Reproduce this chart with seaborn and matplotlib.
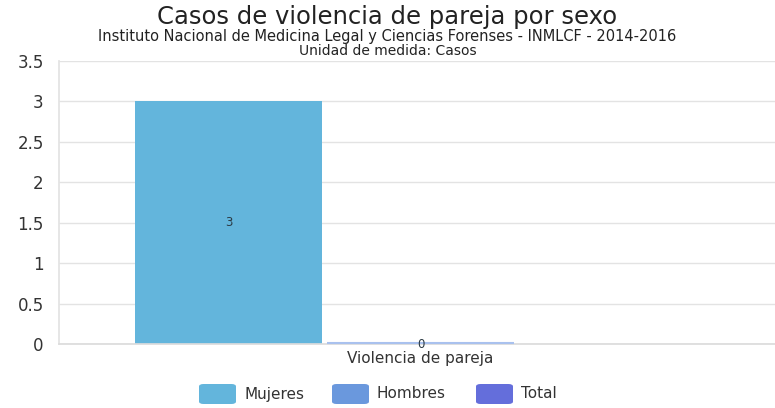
import numpy as np
import pandas as pd
import matplotlib
matplotlib.use("Agg")
import matplotlib.pyplot as plt
import seaborn as sns
from matplotlib.patches import FancyBboxPatch

categories = ["Violencia de pareja"]
series = ["Mujeres", "Hombres", "Total"]
values = [3, 0, np.nan]
colors = ["#63b5dc", "#6a98dd", "#646edb"]
yticks = [0, 0.5, 1, 1.5, 2, 2.5, 3, 3.5]
ytick_labels = ["0", "0.5", "1", "1.5", "2", "2.5", "3", "3.5"]

df = pd.DataFrame({
    "categoria": categories * len(series),
    "sexo": series,
    "casos": values,
})

sns.set_theme(style="white")
plt.rcParams["font.family"] = ["DejaVu Sans"]

fig = plt.figure(figsize=(7.75, 4.08), dpi=100)
ax = fig.add_axes([59 / 775, 1 - 344 / 408, 1 - 59 / 775, (344 - 61) / 408])

sns.barplot(data=df, x="categoria", y="casos", hue="sexo", hue_order=series,
            palette=colors, width=0.8, gap=0.025, ax=ax, legend=False,
            saturation=1, linewidth=0)

# zero-valued bar shows as a thin line along the baseline
for patch, v in zip(ax.patches, values):
    if v == 0:
        x0 = patch.get_x()
        w = patch.get_width()
        ax.plot([x0, x0 + w], [0.012, 0.012], color="#a9c1ee", lw=1.5,
                zorder=5, solid_capstyle="butt", clip_on=False)

# value labels inside bars
for patch, v in zip(ax.patches, values):
    if np.isnan(v):
        continue
    cx = patch.get_x() + patch.get_width() / 2
    ax.text(cx, v / 2, f"{v:g}", ha="center", va="center", fontsize=8.5,
            color="#2b3a44", zorder=6)

ax.set_ylim(0, 3.5)
ax.set_xlim(-0.503, 0.493)
ax.set_yticks(yticks)
ax.set_yticklabels(ytick_labels)
ax.tick_params(axis="y", labelsize=12, colors="#333333", length=0, pad=11)
ax.tick_params(axis="x", labelsize=11, colors="#333333", length=0, pad=5)
ax.set_xlabel("")
ax.set_ylabel("")
ax.grid(axis="y", color="#e3e3e3", lw=1)
ax.set_axisbelow(True)
for side in ["top", "right"]:
    ax.spines[side].set_visible(False)
ax.spines["left"].set_color("#e3e3e3")
ax.spines["bottom"].set_color("#dcdcdc")

fig.text(0.5, 1 - 17 / 408, "Casos de violencia de pareja por sexo", ha="center",
         va="center", fontsize=17.5, color="#222222")
fig.text(0.5, 1 - 37 / 408,
         "Instituto Nacional de Medicina Legal y Ciencias Forenses - INMLCF - 2014-2016",
         ha="center", va="center", fontsize=10.5, color="#222222")
fig.text(0.5, 1 - 51 / 408, "Unidad de medida: Casos", ha="center", va="center",
         fontsize=10, color="#222222")

# legend with rounded swatches
legend_y = 1 - 394 / 408
swatch_x = [199, 332, 476]
for sx, name, c in zip(swatch_x, series, colors):
    fig.patches.append(FancyBboxPatch(
        (sx / 775, legend_y - 10 / 408), 37 / 775, 20 / 408,
        boxstyle="round,pad=0,rounding_size=0.006", transform=fig.transFigure,
        facecolor=c, edgecolor="none"))
    fig.text((sx + 45) / 775, legend_y, name, ha="left", va="center",
             fontsize=11, color="#333333")

fig.savefig("out.png", dpi=100)
